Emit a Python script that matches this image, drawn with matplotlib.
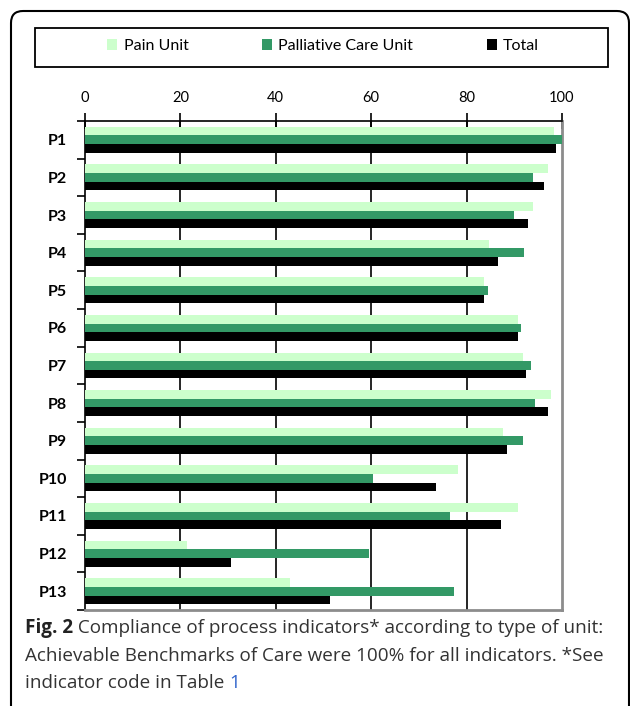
import matplotlib.pyplot as plt
import matplotlib.patches as mpatches
import numpy as np

plt.rcParams['font.family'] = ['Lato', 'DejaVu Sans']

labels = ['P1', 'P2', 'P3', 'P4', 'P5', 'P6', 'P7', 'P8', 'P9', 'P10', 'P11', 'P12', 'P13']
pain = [98.4, 97.0, 94.0, 84.8, 83.6, 90.7, 91.8, 97.7, 87.7, 78.1, 90.7, 21.4, 42.9]
palliative = [99.9, 94.0, 89.9, 92.1, 84.4, 91.4, 93.6, 94.3, 91.8, 60.3, 76.6, 59.5, 77.3]
total = [98.8, 96.2, 92.9, 86.6, 83.6, 90.7, 92.5, 97.0, 88.4, 73.6, 87.3, 30.7, 51.4]
series_names = ['Pain Unit', 'Palliative Care Unit', 'Total']
xticks = [0, 20, 40, 60, 80, 100]

fig = plt.figure(figsize=(6.3, 7.06), dpi=100)

# rounded frame around the whole figure (cut by the right/bottom edge)
frame = mpatches.FancyBboxPatch((0.11, -0.2), 6.18, 7.06 - 0.11 + 0.2,
                                boxstyle='round,pad=0,rounding_size=0.12',
                                transform=fig.dpi_scale_trans, fill=False,
                                ec='black', lw=1.5)
fig.patches.append(frame)

ax = fig.add_axes([85 / 630, 1 - 610 / 706, 477 / 630, 489 / 706])
y = np.arange(len(labels))
h = 0.23
ax.barh(y - h, pain, h, color='#ccffcc', label=series_names[0], zorder=3)
ax.barh(y, palliative, h, color='#339966', label=series_names[1], zorder=3)
ax.barh(y + h, total, h, color='black', label=series_names[2], zorder=3)

ax.set_xlim(0, 100)
ax.set_ylim(len(labels) - 0.5, -0.5)

for v in xticks[1:-1]:
    ax.axvline(v, color='black', lw=1.2, zorder=1)

ax.xaxis.tick_top()
ax.set_xticks(xticks)
ax.tick_params(axis='x', direction='inout', length=11, width=1.2, pad=6, labelsize=10.5)

ax.set_yticks(y)
ax.set_yticklabels(labels, fontweight='bold', fontsize=11.5)
ax.set_yticks(np.arange(-0.5, len(labels), 1), minor=True)
ax.tick_params(axis='y', which='major', length=0, pad=13)
ax.tick_params(axis='y', which='minor', length=6, width=1.2, direction='out')

ax.spines['top'].set_linewidth(1.2)
ax.spines['left'].set_linewidth(1.2)
for s in ['right', 'bottom']:
    ax.spines[s].set_color('#8c8c8c')
    ax.spines[s].set_linewidth(2)

# legend box
fig.patches.append(mpatches.Rectangle((35 / 630, 1 - 67 / 706), 573 / 630, 39 / 706,
                                      transform=fig.transFigure, fill=False,
                                      ec='black', lw=1.3))
handles, names = ax.get_legend_handles_labels()
fig.legend(handles, names, loc='center', bbox_to_anchor=(0.513, 1 - 46 / 706), ncol=3,
           frameon=False, fontsize=11.5, handlelength=0.62, handleheight=0.62,
           handletextpad=0.4, columnspacing=4.6)

# caption
renderer = fig.canvas.get_renderer()
cap_kw = dict(fontsize=13.6, family=['Open Sans', 'DejaVu Sans'], va='center')


def chain(x, yy, parts):
    for txt, color, weight in parts:
        t = fig.text(x, yy, txt, color=color, fontweight=weight, **cap_kw)
        bb = t.get_window_extent(renderer)
        x = x + bb.width / fig.bbox.width


x0 = 25 / 630
chain(x0, 1 - 628 / 706, [('Fig. 2', '#222222', 'bold'),
                          (' Compliance of process indicators* according to type of unit:', '#333333', 'normal')])
chain(x0, 1 - 656 / 706, [('Achievable Benchmarks of Care were 100% for all indicators. *See', '#333333', 'normal')])
chain(x0, 1 - 683 / 706, [('indicator code in Table ', '#333333', 'normal'),
                          ('1', '#3366cc', 'normal')])

fig.savefig('out.png', dpi=100)
